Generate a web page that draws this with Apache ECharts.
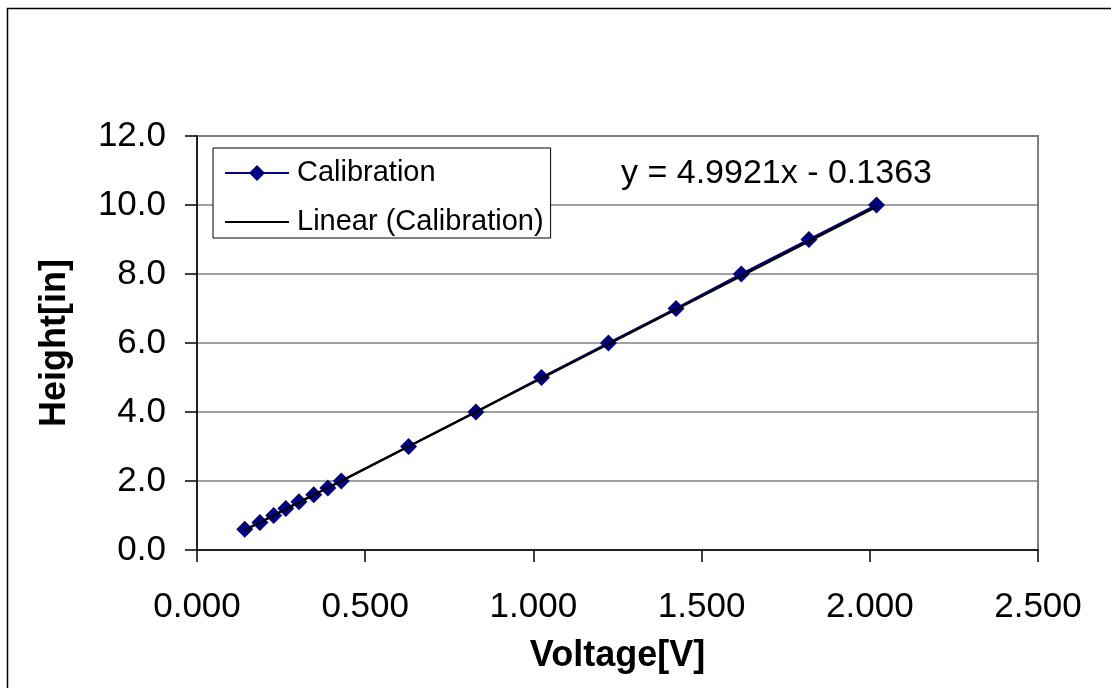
<!DOCTYPE html>
<html>
<head>
<meta charset="utf-8">
<script src="https://cdn.jsdelivr.net/npm/echarts@6/dist/echarts.min.js"></script>
<style>
html,body{margin:0;padding:0;background:#fff;}
#chart{width:1111px;height:688px;}
</style>
</head>
<body>
<div id="chart"></div>
<script>
// Data
var voltage = [0.142, 0.187, 0.228, 0.264, 0.303, 0.347, 0.389, 0.429, 0.629, 0.829, 1.024, 1.223, 1.424, 1.618, 1.819, 2.020];
var height  = [0.6, 0.8, 1.0, 1.2, 1.4, 1.6, 1.8, 2.0, 3.0, 4.0, 5.0, 6.0, 7.0, 8.0, 9.0, 10.0];
// Linear trendline endpoints (y = 4.9921x - 0.1363 over the data range)
var trendX = [0.142, 2.020];
var trendY = [0.573, 9.948];
var seriesNames = ['Calibration', 'Linear (Calibration)'];
var equationText = 'y = 4.9921x - 0.1363';
var xTitle = 'Voltage[V]';
var yTitle = 'Height[in]';

var FONT = "'Liberation Sans', Arial, sans-serif";
var chart = echarts.init(document.getElementById('chart'), null, {renderer: 'canvas'});

var calib = voltage.map(function (v, i) { return [v, height[i]]; });
var trend = trendX.map(function (v, i) { return [v, trendY[i]]; });

chart.setOption({
  backgroundColor: '#ffffff',
  animation: false,
  grid: {
    left: 197, top: 136, right: 73, bottom: 138,
    show: true, borderColor: '#808080', borderWidth: 2, backgroundColor: 'transparent'
  },
  legend: {
    orient: 'vertical',
    left: 213, top: 148,
    padding: [9, 7, 0, 11],
    itemGap: 17,
    itemWidth: 64, itemHeight: 20,
    borderColor: '#000', borderWidth: 1,
    backgroundColor: '#fff',
    textStyle: {fontFamily: FONT, fontSize: 29, color: '#000', lineHeight: 32, padding: [0, 0, 0, 3]},
    data: [
      {name: seriesNames[0]},
      {name: seriesNames[1], itemStyle: {opacity: 0}}
    ]
  },
  xAxis: {
    type: 'value', min: 0, max: 2.5, interval: 0.5,
    name: xTitle, nameLocation: 'middle', nameGap: 88,
    nameTextStyle: {fontFamily: FONT, fontSize: 36, fontWeight: 'bold', color: '#000'},
    axisLine: {show: true, onZero: false, lineStyle: {color: '#000', width: 1.5}},
    axisTick: {show: true, inside: false, length: 12, lineStyle: {color: '#000', width: 1.5}},
    axisLabel: {fontFamily: FONT, fontSize: 35, color: '#000', margin: 40,
      formatter: function (v) { return v.toFixed(3); }},
    splitLine: {show: false}
  },
  yAxis: {
    type: 'value', min: 0, max: 12, interval: 2,
    name: yTitle, nameLocation: 'middle', nameGap: 124,
    nameTextStyle: {fontFamily: FONT, fontSize: 36, fontWeight: 'bold', color: '#000'},
    axisLine: {show: true, onZero: false, lineStyle: {color: '#000', width: 1.5}},
    axisTick: {show: true, inside: false, length: 12, lineStyle: {color: '#000', width: 1.5}},
    axisLabel: {fontFamily: FONT, fontSize: 35, color: '#000', margin: 31,
      formatter: function (v) { return v.toFixed(1); }},
    splitLine: {show: true, lineStyle: {color: '#808080', width: 1.5}}
  },
  series: [
    {
      name: seriesNames[0], type: 'line', data: calib,
      symbol: 'diamond', symbolSize: 17, showSymbol: true,
      lineStyle: {color: '#000080', width: 2},
      itemStyle: {color: '#000080'},
      z: 2
    },
    {
      name: seriesNames[1], type: 'line', data: trend,
      symbol: 'none', showSymbol: false,
      lineStyle: {color: '#000', width: 2.2},
      itemStyle: {color: '#000'},
      z: 3
    }
  ],
  graphic: [
    {
      type: 'rect', silent: true, z: -10,
      shape: {x: 7.5, y: 8.5, width: 1300, height: 900},
      style: {fill: 'transparent', stroke: '#000', lineWidth: 1.5}
    },
    {
      type: 'text', left: 621, top: 157, silent: true,
      style: {text: equationText, font: '34px ' + FONT, fill: '#000'}
    }
  ]
});
</script>
</body>
</html>
